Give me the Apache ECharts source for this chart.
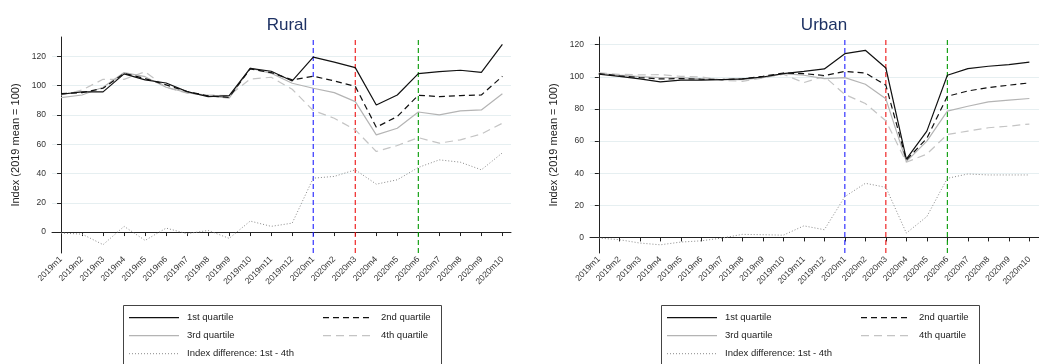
<!DOCTYPE html>
<html>
<head>
<meta charset="utf-8">
<script src="https://cdn.jsdelivr.net/npm/echarts@6/dist/echarts.min.js"></script>
<style>
html,body{margin:0;padding:0;background:#fff;}
#c{width:1039px;height:364px;}
</style>
</head>
<body>
<div id="c"></div>
<script>
const categories = ['2019m1','2019m2','2019m3','2019m4','2019m5','2019m6','2019m7','2019m8','2019m9','2019m10','2019m11','2019m12',
  '2020m1','2020m2','2020m3','2020m4','2020m5','2020m6','2020m7','2020m8','2020m9','2020m10'];
const yTicks = [0, 20, 40, 60, 80, 100, 120];

const ruralQ1 = [94.1,95.7,95.7,108,103.9,101.8,95.9,92.5,93.2,111.8,109.8,103.2,119.5,116,112.3,86.8,93.6,108.2,109.5,110.5,109.1,128.2];
const ruralQ2 = [94.5,95.2,98.2,108.4,104.8,100.5,96,93,92,111.4,108.9,103.9,106.4,103.2,99.5,71.6,78.9,93.4,92.5,93.2,93.6,106.4];
const ruralQ3 = [91.8,93.6,98.9,108.9,106.1,98.9,95.2,93,91.4,112,108.4,101.6,98.2,95.2,89.1,66.4,70.9,82,80,82.7,83.4,94.5];
const ruralQ4 = [93.6,97,104.3,104.3,109.5,98.9,94.8,93.6,93.2,104.5,105.7,97.5,83,77.7,69.8,55,59.1,64.5,60.7,63,67,74.3];
const ruralDiff = [-0.7,-1.4,-8.6,3.9,-5.7,2.7,-1.1,1.1,-4.3,7.5,3.9,6.1,36.8,38,42.5,32.7,35.7,44.1,49.3,47.7,42.5,54.1];

const urbanQ1 = [101.6,100.3,98.7,96.8,97.9,97.9,98.3,98.7,99.9,102,103.4,104.9,114.4,116.5,105.5,48.8,66.2,101,105.1,106.6,107.6,109.2];
const urbanQ2 = [102,100.6,99.5,98.7,98.9,98.5,98.3,98.7,100.3,102.4,102,100.8,103.4,102.4,94.8,48.2,61.7,87.9,91.2,93.3,94.8,96.2];
const urbanQ3 = [102,101,100.1,99.5,99.5,98.7,98.3,98.3,99.5,102,101,98.9,99.5,95.4,86.3,47.2,60,78.6,81.7,84.4,85.5,86.5];
const urbanQ4 = [102.4,101.6,101.2,101.4,100.3,99.9,97.9,97.2,99.3,101.6,96.4,100.3,89,83.4,72.6,46.8,51.9,64.1,66.2,68.3,69.3,70.6];
const urbanDiff = [-0.4,-1.4,-3.5,-4.6,-2.9,-2.1,-0.4,1.9,1.7,1.4,7.2,4.8,25.4,33.7,31.2,2.7,13,36.8,39.5,38.9,38.9,38.9];

const eventMonths = ['2020m1', '2020m3', '2020m6'];
const eventColors = ['#1f1fff', '#ee1111', '#009900'];
const panelTitles = ['Rural', 'Urban'];
const yName = 'Index (2019 mean = 100)';
const legendNames = ['1st quartile','2nd quartile','3rd quartile','4th quartile','Index difference: 1st - 4th'];

const styles = [
  {color:'#111', type:'solid', width:1.2},
  {color:'#111', type:[6,4], width:1.2},
  {color:'#b4b4b4', type:'solid', width:1.2},
  {color:'#c4c4c4', type:[8,5], width:1.2},
  {color:'#8a8a8a', type:[1,2], width:1}
];

function pairs(arr){ return arr.map((v,i)=>[i,v]); }

const panels = [
  {data:[ruralQ1,ruralQ2,ruralQ3,ruralQ4,ruralDiff], grid:{left:52, top:37, width:459, height:216}, xmin:-0.43, xmax:21.41, ymin:-14.3, ymax:133.2, legendX:123, titleX:282},
  {data:[urbanQ1,urbanQ2,urbanQ3,urbanQ4,urbanDiff], grid:{left:590, top:37, width:460, height:216}, xmin:-0.43, xmax:21.47, ymin:-9.7, ymax:124.8, legendX:661, titleX:819}
];

const font = 'Liberation Sans, Arial, sans-serif';
const grids = [], xAxes = [], yAxes = [], series = [], titles = [], graphics = [];

panels.forEach((p, k) => {
  grids.push(p.grid);
  titles.push({text: panelTitles[k], left: p.titleX, top: 12, textAlign: 'center',
    textStyle:{fontFamily:font, fontSize:17, fontWeight:'normal', color:'#1e3264'}});
  xAxes.push({
    type:'value', gridIndex:k, min:p.xmin, max:p.xmax,
    axisLine:{show:true, lineStyle:{color:'#222', width:1}},
    axisTick:{show:true, length:4, customValues: categories.map((c,i)=>i), lineStyle:{color:'#222'}},
    axisLabel:{show:true, rotate:45, fontSize:8.5, fontFamily:font, color:'#333', margin:5,
      customValues: categories.map((c,i)=>i), formatter: v => categories[Math.round(v)] || ''},
    splitLine:{show:false}
  });
  yAxes.push({
    type:'value', gridIndex:k, min:p.ymin, max:p.ymax,
    name: yName, nameLocation:'middle', nameGap:31, nameRotate:90,
    nameTextStyle:{fontFamily:font, fontSize:11, color:'#222'},
    axisLine:{show:true, lineStyle:{color:'#222', width:1}},
    axisTick:{show:true, length:4, customValues: yTicks, lineStyle:{color:'#222'}},
    axisLabel:{show:true, fontSize:8.5, fontFamily:font, color:'#333', margin:6, customValues: yTicks},
    splitLine:{show:true, lineStyle:{color:'#e6eff1', width:1}}
  });
  p.data.forEach((arr, j) => {
    series.push({
      type:'line', xAxisIndex:k, yAxisIndex:k, name: legendNames[j],
      data: pairs(arr), showSymbol:false, symbol:'none', silent:true, animation:false,
      lineStyle: {color: styles[j].color, type: styles[j].type, width: styles[j].width},
      z: 10 - j
    });
  });
  eventMonths.forEach((c, e) => {
    const xi = categories.indexOf(c);
    series.push({
      type:'line', xAxisIndex:k, yAxisIndex:k, silent:true, animation:false,
      showSymbol:false, symbol:'none',
      data: [[xi, p.ymin], [xi, p.ymax]],
      itemStyle:{color: eventColors[e]},
      lineStyle:{color: eventColors[e], type:[5,3], width:1.1},
      z: 4
    });
  });

  // legend box
  const lx = p.legendX, ly = 305;
  graphics.push({type:'rect', shape:{x:lx+0.5, y:ly+0.5, width:318, height:70}, style:{fill:'#fff', stroke:'#444', lineWidth:1}, z:50});
  const rows = [
    [0, 6, 12.7], [1, 200, 12.7], [2, 6, 30.7], [3, 200, 30.7], [4, 6, 48.7]
  ];
  rows.forEach(([j, ox, oy]) => {
    graphics.push({type:'line', shape:{x1:lx+ox, y1:ly+oy, x2:lx+ox+50, y2:ly+oy},
      style:{stroke: styles[j].color, lineWidth: styles[j].width, lineDash: styles[j].type === 'solid' ? null : styles[j].type}, z:51});
    graphics.push({type:'text', x: lx+ox+58, y: ly+oy, style:{text: legendNames[j], font:'9.5px '+font, fill:'#222', textVerticalAlign:'middle'}, z:51});
  });
});

const chart = echarts.init(document.getElementById('c'), null, {renderer:'canvas'});
chart.setOption({
  animation:false,
  backgroundColor:'#fff',
  title: titles,
  grid: grids,
  xAxis: xAxes,
  yAxis: yAxes,
  series: series,
  graphic: graphics
});
</script>
</body>
</html>
